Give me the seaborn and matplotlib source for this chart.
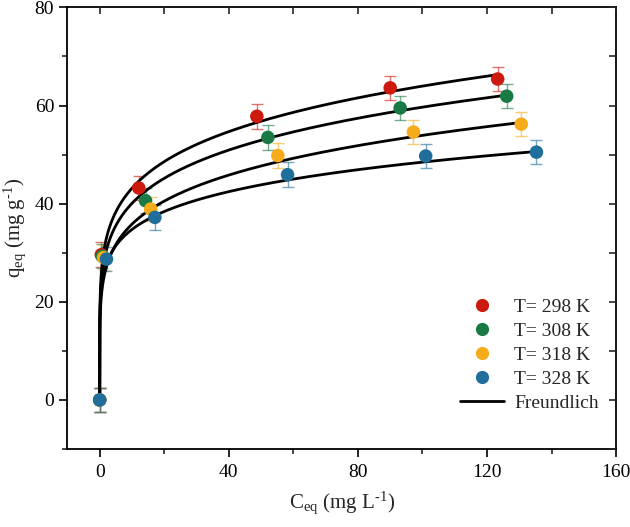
import numpy as np
import pandas as pd
import matplotlib
matplotlib.use("Agg")
import matplotlib.pyplot as plt
import seaborn as sns
from matplotlib.lines import Line2D
from matplotlib.ticker import MultipleLocator

sns.set_style("white")
plt.rcParams['font.family'] = ['Liberation Serif', 'DejaVu Serif']
plt.rcParams['mathtext.fontset'] = 'custom'
plt.rcParams['mathtext.rm'] = 'Liberation Serif'
plt.rcParams['mathtext.it'] = 'Liberation Serif:italic'

labels = ["T= 298 K", "T= 308 K", "T= 318 K", "T= 328 K"]
colors = ["#cc1a0e", "#1a7a45", "#f6ab1b", "#206e9b"]

ceq_298 = [0.0, 0.5, 12.1, 48.7, 90.0, 123.3]
qeq_298 = [0.0, 29.6, 43.2, 57.8, 63.6, 65.4]
ceq_308 = [0.0, 0.8, 14.2, 52.1, 93.1, 126.1]
qeq_308 = [0.0, 29.3, 40.6, 53.5, 59.5, 61.9]
ceq_318 = [0.0, 1.2, 15.8, 55.2, 97.2, 130.6]
qeq_318 = [0.0, 29.0, 38.9, 49.8, 54.6, 56.2]
ceq_328 = [0.0, 2.1, 17.1, 58.2, 101.0, 135.3]
qeq_328 = [0.0, 28.7, 37.2, 45.9, 49.7, 50.5]
err = [2.5, 2.5, 2.5, 2.5, 2.5, 2.5]

# Freundlich parameters
KF = [29.1, 26.9, 23.8, 24.9]
inv_n = [0.171, 0.173, 0.1776, 0.1446]

ceqs = [ceq_298, ceq_308, ceq_318, ceq_328]
qeqs = [qeq_298, qeq_308, qeq_318, qeq_328]

fig = plt.figure(figsize=(6.3, 5.27), dpi=100)
ax = fig.add_axes([0.107, 0.148, 0.871, 0.838])

# fitted curves
for i in range(4):
    xs = np.concatenate([[0.0], np.geomspace(0.01, max(ceqs[i]), 600)])
    ys = KF[i] * xs ** inv_n[i]
    cdf = pd.DataFrame({"x": xs, "y": ys})
    sns.lineplot(data=cdf, x="x", y="y", color="black", lw=2.0, sort=False,
                 ax=ax, zorder=3, legend=False)

# points with error bars
for i in range(4):
    ax.errorbar(ceqs[i], qeqs[i], yerr=err, fmt="none", ecolor=colors[i],
                alpha=0.6, elinewidth=1.0, capsize=4, capthick=1.0, zorder=2)
    df = pd.DataFrame({"x": ceqs[i], "y": qeqs[i]})
    sns.scatterplot(data=df, x="x", y="y", color=colors[i], s=95,
                    edgecolor="none", ax=ax, zorder=4, legend=False)

ax.set_xlim(-10, 160)
ax.set_ylim(-10, 80)
ax.xaxis.set_major_locator(MultipleLocator(40))
ax.xaxis.set_minor_locator(MultipleLocator(20))
ax.yaxis.set_major_locator(MultipleLocator(20))
ax.yaxis.set_minor_locator(MultipleLocator(10))

for s in ax.spines.values():
    s.set_color("black")
    s.set_linewidth(1.3)

ax.tick_params(axis="both", which="major", direction="out", length=6, width=1.2,
               labelsize=14, colors="black", bottom=True, left=True)
ax.tick_params(axis="x", which="major", pad=5)
ax.tick_params(axis="both", which="minor", direction="out", length=3.5, width=1.2,
               bottom=True, left=True)
# inward ticks on top and right
ax2 = ax.twiny()
ax2.set_xlim(ax.get_xlim())
ax2.xaxis.set_major_locator(MultipleLocator(20))
ax2.tick_params(axis="x", direction="in", length=5, width=1.2, labeltop=False, top=True)
ax3 = ax.twinx()
ax3.set_ylim(ax.get_ylim())
ax3.yaxis.set_major_locator(MultipleLocator(10))
ax3.tick_params(axis="y", direction="in", length=5, width=1.2, labelright=False, right=True)
for a in (ax2, ax3):
    for s in a.spines.values():
        s.set_visible(False)

ax.set_xlabel("C$_{\\mathrm{eq}}$ (mg L$^{\\mathrm{\u2010}1}$)", fontsize=15, labelpad=6)
ax.set_ylabel("q$_{\\mathrm{eq}}$ (mg g$^{\\mathrm{\u2010}1}$)", fontsize=15, labelpad=5)

handles = [Line2D([], [], ls="none", marker="o", ms=9.5, color=c, mec="none")
           for c in colors]
handles.append(Line2D([], [], color="black", lw=2.0))
leg = ax.legend(handles, labels + ["Freundlich"], loc="lower right",
                bbox_to_anchor=(1.0, 0.045), frameon=False, fontsize=14,
                handlelength=2.3, labelspacing=0.32, handletextpad=0.5)

fig.savefig("out.png", dpi=100)
